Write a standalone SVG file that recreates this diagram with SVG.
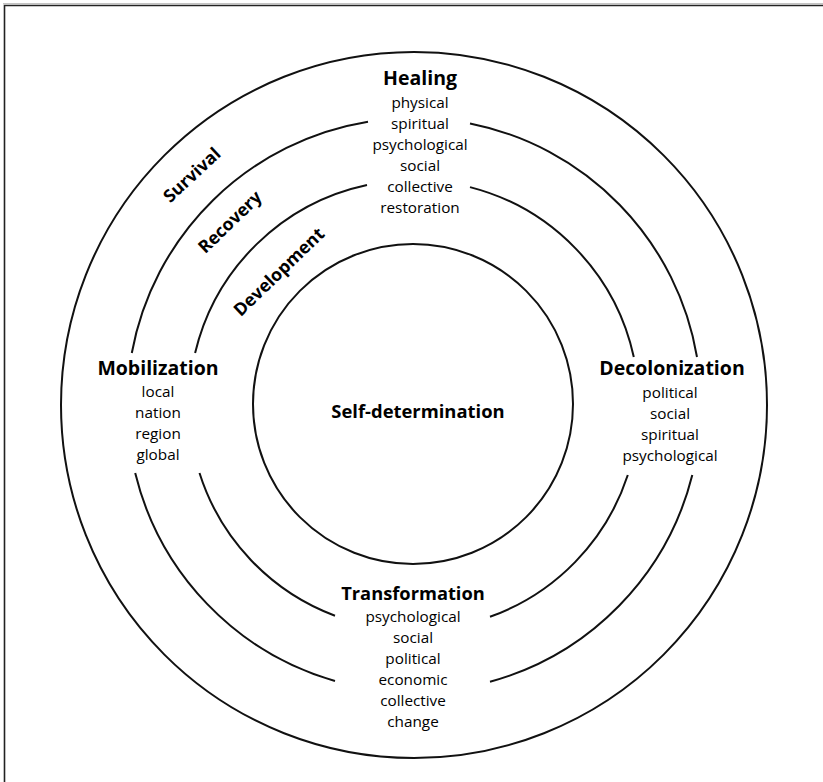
<svg xmlns="http://www.w3.org/2000/svg" width="823" height="782" viewBox="0 0 823 782">
<style>
.ring{fill:none;stroke:#111;stroke-width:2}
.h{font-family:"Open Sans",Lato,"Liberation Sans",sans-serif;font-weight:bold;font-size:19.5px;fill:#000;text-anchor:middle}
.r{font-size:17.6px}
.t{font-family:"Open Sans",Lato,"Liberation Sans",sans-serif;font-size:15.3px;fill:#000;text-anchor:middle}
</style>
<rect width="823" height="782" fill="#fff"/>
<path d="M4.5 782 V5.5 H823" fill="none" stroke="#222" stroke-width="1.6"/>
<path d="M3 3.8 H823" stroke="#aaa" stroke-width="1"/>
<g id="connectors">
<circle class="ring" cx="414" cy="405" r="353"/>
<circle class="ring" cx="413" cy="404" r="160"/>
<path class="ring" d="M470 123.5 A287 287 0 0 1 697 357 M692.3 475 A287 287 0 0 1 490 681.8 M335 681 A287 287 0 0 1 135.2 473 M131.8 353 A287 287 0 0 1 368 121.7"/>
<path class="ring" d="M470 187.1 A225 225 0 0 1 633.8 357 M627.8 475 A225 225 0 0 1 490 616.8 M335 615.7 A225 225 0 0 1 199.5 473 M195.1 353 A225 225 0 0 1 367 185"/>
</g>
<g id="healing">
<text class="h" x="420" y="85">Healing</text>
<text class="t" x="420" y="108">physical</text>
<text class="t" x="420" y="129">spiritual</text>
<text class="t" x="420" y="150">psychological</text>
<text class="t" x="420" y="171">social</text>
<text class="t" x="420" y="192">collective</text>
<text class="t" x="420" y="213">restoration</text>
</g>
<g id="mobilization">
<text class="h" x="158" y="375">Mobilization</text>
<text class="t" x="158" y="397">local</text>
<text class="t" x="158" y="418">nation</text>
<text class="t" x="158" y="439">region</text>
<text class="t" x="158" y="460">global</text>
</g>
<g id="decolonization">
<text class="h" x="672" y="375">Decolonization</text>
<text class="t" x="670" y="398">political</text>
<text class="t" x="670" y="419">social</text>
<text class="t" x="670" y="440">spiritual</text>
<text class="t" x="670" y="461">psychological</text>
</g>
<g id="transformation">
<text class="h" x="413" y="600" style="font-size:18.3px">Transformation</text>
<text class="t" x="413" y="622">psychological</text>
<text class="t" x="413" y="643">social</text>
<text class="t" x="413" y="664">political</text>
<text class="t" x="413" y="685">economic</text>
<text class="t" x="413" y="706">collective</text>
<text class="t" x="413" y="727">change</text>
</g>
<g id="self-determination">
<text class="h" x="418" y="418" style="font-size:18.4px">Self-determination</text>
</g>
<g id="survival">
<text class="h r" transform="translate(192 175) rotate(-43)" y="6">Survival</text>
</g>
<g id="recovery">
<text class="h r" transform="translate(230 222) rotate(-44)" y="6">Recovery</text>
</g>
<g id="development">
<text class="h r" transform="translate(279 272) rotate(-44)" y="6">Development</text>
</g>
</svg>
